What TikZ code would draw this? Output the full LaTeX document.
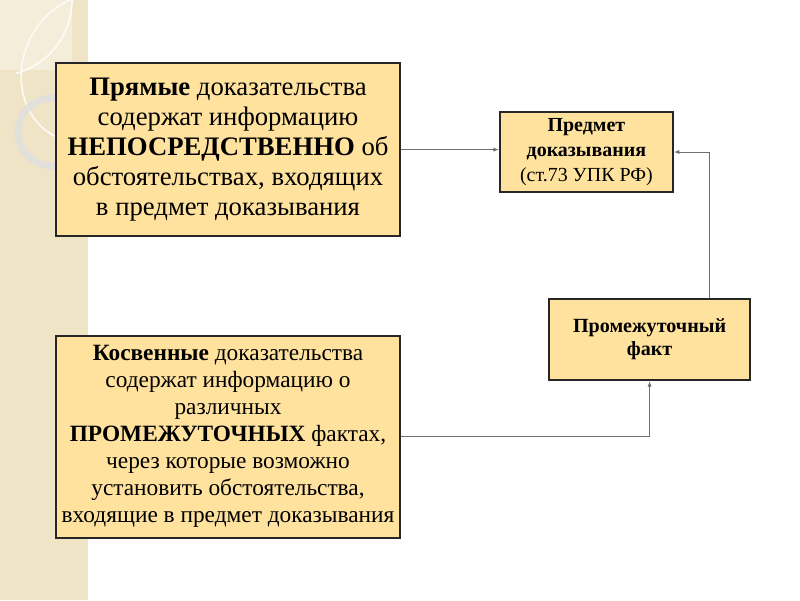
\documentclass[tikz,border=0pt]{standalone}
\usepackage{fontspec}
\setmainfont{Liberation Serif}
\usetikzlibrary{arrows.meta}

\definecolor{boxfill}{HTML}{FFE29E}
\definecolor{strip}{HTML}{EFE4C6}
\definecolor{link}{HTML}{6E6E6E}

\tikzset{
  factbox/.style={draw=black!85, line width=1.3pt, fill=boxfill, align=center, inner sep=2pt},
  link/.style={draw=link, line width=0.7pt, -{Latex[length=4pt,width=3pt]}}
}

\begin{document}
\begin{tikzpicture}
\useasboundingbox (0,0) rectangle (20,15);

% slide background strip
\fill[strip] (0,0) rectangle (2.2,15); % left strip
\fill[white, opacity=0.35] (0,13.25) rectangle (1.8,15); % light square
\draw[white!85!strip, line width=1.2pt] (1.8,15) arc[start angle=0, end angle=-75, radius=1.9]; % leaf arc
\draw[white!80!strip, line width=1.2pt] (1.75,15) .. controls (0.2,14.3) and (0.1,12) .. (1.6,11.5); % big arc
\draw[gray!25, line width=5pt, opacity=0.8] (1.3,11.7) circle[radius=0.85]; % ring

% boxes
\node[factbox, minimum width=8.6cm, minimum height=4.325cm,
      font={\fontsize{19}{21.3}\selectfont}] (direct) at (5.7,11.26)
  {\textbf{Прямые} доказательства\\
   содержат информацию\\
   \textbf{НЕПОСРЕДСТВЕННО} об\\
   обстоятельствах, входящих\\
   в предмет доказывания}; % direct evidence

\node[factbox, minimum width=4.325cm, minimum height=2cm,
      font={\fontsize{14.2}{17.8}\selectfont}] (subject) at (14.66,11.2)
  {\textbf{Предмет}\\
   \textbf{доказывания}\\
   (ст.73 УПК РФ)}; % subject of proof

\node[factbox, minimum width=5.025cm, minimum height=2.025cm,
      font={\fontsize{14.3}{16.4}\selectfont}] (interim) at (16.24,6.51)
  {\textbf{Промежуточный}\\
   \textbf{факт}}; % intermediate fact

\node[factbox, minimum width=8.6cm, minimum height=5.05cm,
      font={\fontsize{16.6}{19.2}\selectfont}] (indirect) at (5.7,4.08)
  {\textbf{Косвенные} доказательства\\
   содержат информацию о\\
   различных\\
   \textbf{ПРОМЕЖУТОЧНЫХ} фактах,\\
   через которые возможно\\
   установить обстоятельства,\\
   входящие в предмет доказывания}; % indirect evidence

% connectors
\coordinate (riser) at ([xshift=1.5cm]interim.north);
\draw[link] (direct.east) -- (direct.east -| subject.west); % direct -> subject
\draw[link] (riser) |- (subject.east); % interim -> subject
\draw[link] (indirect.east) -| (interim.south); % indirect -> interim

\end{tikzpicture}
\end{document}
